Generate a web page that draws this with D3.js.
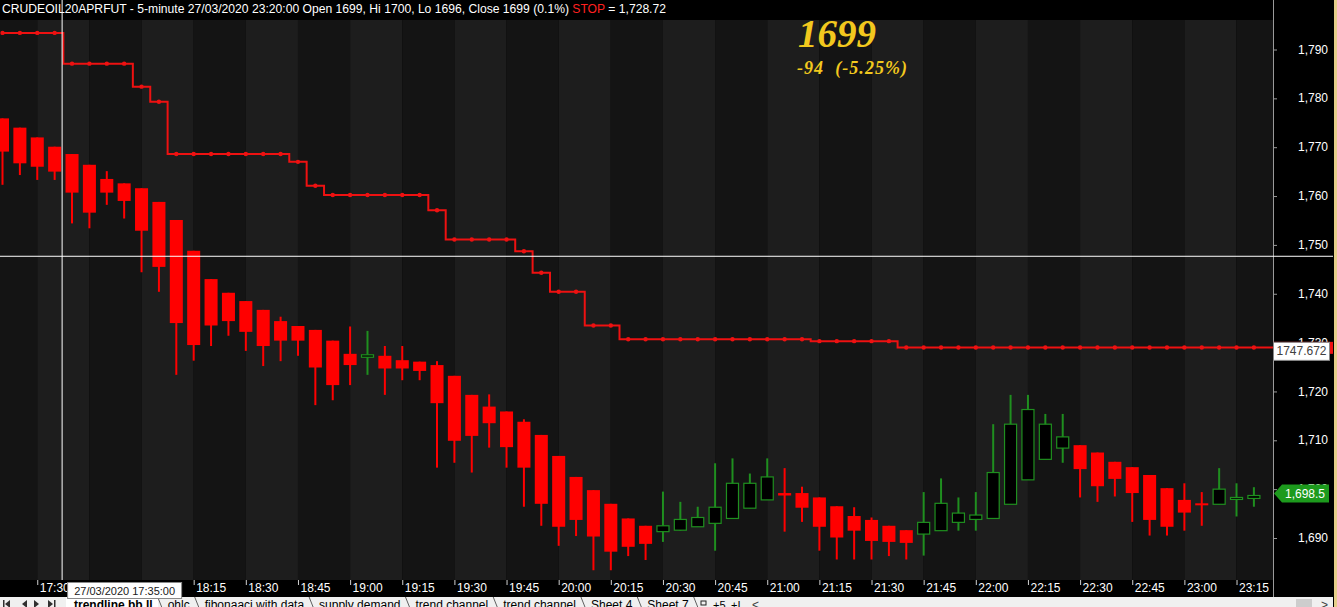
<!DOCTYPE html>
<html>
<head>
<meta charset="utf-8">
<script src="https://cdn.jsdelivr.net/npm/d3@7/dist/d3.min.js"></script>
<style>
  html, body { margin: 0; padding: 0; background: #000; overflow: hidden; }
  svg { display: block; font-family: Arial, "Liberation Sans", sans-serif; }
</style>
</head>
<body>
<svg id="chart" width="1337" height="607"></svg>
<script>
// 5-minute bars
let times = [
  "17:20", "17:25", "17:30", "17:35", "17:40", "17:45", "17:50", "17:55",
  "18:00", "18:05", "18:10", "18:15", "18:20", "18:25", "18:30", "18:35", "18:40", "18:45", "18:50", "18:55",
  "19:00", "19:05", "19:10", "19:15", "19:20", "19:25", "19:30", "19:35", "19:40", "19:45", "19:50", "19:55",
  "20:00", "20:05", "20:10", "20:15", "20:20", "20:25", "20:30", "20:35", "20:40", "20:45", "20:50", "20:55",
  "21:00", "21:05", "21:10", "21:15", "21:20", "21:25", "21:30", "21:35", "21:40", "21:45", "21:50", "21:55",
  "22:00", "22:05", "22:10", "22:15", "22:20", "22:25", "22:30", "22:35", "22:40", "22:45", "22:50", "22:55",
  "23:00", "23:05", "23:10", "23:15", "23:20"
];
let opens = [
  1775.9, 1774.0, 1772.0, 1770.1, 1768.6, 1766.4, 1763.5, 1762.6, 1761.6, 1758.8,
  1755.1, 1748.8, 1743.0, 1740.2, 1738.5, 1736.7, 1734.4, 1733.4, 1732.6, 1730.4,
  1727.7, 1727.0, 1727.3, 1726.4, 1726.1, 1725.4, 1723.2, 1719.3, 1716.9, 1715.9,
  1713.8, 1711.1, 1706.8, 1702.5, 1699.8, 1697.0, 1694.0, 1692.5, 1691.3, 1691.6,
  1692.3, 1693.0, 1694.0, 1696.1, 1697.8, 1699.2, 1699.2, 1698.3, 1696.5, 1694.5,
  1693.7, 1692.5, 1691.6, 1690.8, 1691.5, 1693.2, 1693.8, 1694.0, 1696.9, 1701.9,
  1706.1, 1708.4, 1709.0, 1707.5, 1705.6, 1704.5, 1702.9, 1700.2, 1697.8, 1697.1,
  1696.9, 1697.9, 1698.1
];
let highs = [
  1775.9, 1774.0, 1772.0, 1770.1, 1768.6, 1766.4, 1765.1, 1762.6, 1761.6, 1758.8,
  1755.1, 1748.8, 1743.0, 1740.2, 1738.5, 1736.7, 1735.3, 1733.4, 1732.6, 1730.4,
  1733.3, 1732.4, 1729.3, 1729.3, 1726.1, 1726.2, 1723.2, 1719.3, 1719.4, 1715.9,
  1714.3, 1711.1, 1706.8, 1702.5, 1699.8, 1697.0, 1694.0, 1692.5, 1699.5, 1697.4,
  1696.4, 1705.3, 1706.3, 1703.2, 1706.3, 1704.3, 1700.5, 1698.3, 1696.5, 1696.3,
  1694.2, 1692.5, 1691.6, 1699.4, 1702.2, 1698.3, 1699.4, 1713.3, 1719.3, 1719.3,
  1715.4, 1715.4, 1709.0, 1707.5, 1705.6, 1704.5, 1702.9, 1700.2, 1701.2, 1699.4,
  1704.3, 1701.2, 1700.4
];
let lows = [
  1762.3, 1764.3, 1763.3, 1763.3, 1754.4, 1753.4, 1758.2, 1755.4, 1744.4, 1740.4,
  1723.4, 1726.3, 1729.3, 1731.4, 1728.3, 1725.2, 1726.2, 1727.3, 1717.2, 1718.2,
  1721.3, 1723.4, 1719.3, 1722.3, 1722.3, 1704.4, 1705.4, 1703.4, 1708.5, 1704.4,
  1696.4, 1692.5, 1688.4, 1690.4, 1683.4, 1683.4, 1686.3, 1685.5, 1689.2, 1691.5,
  1692.3, 1687.4, 1694.0, 1696.1, 1697.8, 1691.3, 1693.3, 1687.4, 1685.6, 1685.6,
  1685.6, 1686.3, 1685.6, 1686.4, 1691.5, 1691.5, 1691.5, 1694.0, 1696.9, 1701.9,
  1706.1, 1705.4, 1698.3, 1697.4, 1698.5, 1693.3, 1690.5, 1690.5, 1691.5, 1692.5,
  1696.9, 1694.4, 1696.4
];
let closes = [
  1769.1, 1766.7, 1766.0, 1765.0, 1760.7, 1756.6, 1760.7, 1759.0, 1752.9, 1745.5,
  1734.0, 1729.5, 1733.5, 1734.4, 1732.2, 1729.3, 1730.4, 1730.4, 1724.9, 1721.3,
  1725.4, 1727.5, 1724.7, 1724.7, 1724.2, 1717.6, 1709.9, 1710.9, 1713.5, 1708.6,
  1704.4, 1697.0, 1692.3, 1693.7, 1690.3, 1687.2, 1688.2, 1688.8, 1692.5, 1693.8,
  1694.2, 1696.3, 1701.2, 1701.2, 1702.5, 1698.7, 1696.2, 1692.3, 1690.1, 1691.5,
  1689.4, 1689.2, 1689.0, 1693.2, 1697.1, 1695.1, 1694.7, 1703.4, 1713.3, 1716.3,
  1713.3, 1710.7, 1704.1, 1700.6, 1702.1, 1699.2, 1693.7, 1692.3, 1695.2, 1696.9,
  1700.0, 1698.3, 1698.7
];
// Trailing stop level per bar
let stops = [
  1793.4, 1793.4, 1793.4, 1793.4, 1787.1, 1787.1, 1787.1, 1787.1, 1782.4, 1779.3,
  1768.6, 1768.6, 1768.6, 1768.6, 1768.6, 1768.6, 1768.6, 1767.0, 1762.1, 1760.2,
  1760.2, 1760.2, 1760.2, 1760.2, 1760.2, 1757.1, 1751.1, 1751.1, 1751.1, 1751.1,
  1748.7, 1744.3, 1740.4, 1740.4, 1733.5, 1733.5, 1730.7, 1730.7, 1730.7, 1730.7,
  1730.7, 1730.7, 1730.7, 1730.7, 1730.7, 1730.7, 1730.7, 1730.3, 1730.3, 1730.3,
  1730.3, 1730.3, 1729.0, 1729.0, 1729.0, 1729.0, 1729.0, 1729.0, 1729.0, 1729.0,
  1729.0, 1729.0, 1729.0, 1729.0, 1729.0, 1729.0, 1729.0, 1729.0, 1729.0, 1729.0,
  1729.0, 1729.0, 1729.0
];

// Axis ticks
let xTickLabels = [
  "17:30", "17:45", "18:00", "18:15", "18:30", "18:45", "19:00", "19:15", "19:30", "19:45",
  "20:00", "20:15", "20:30", "20:45", "21:00", "21:15", "21:30", "21:45", "22:00", "22:15",
  "22:30", "22:45", "23:00", "23:15"
];
let yTickValues = [1690, 1700, 1710, 1720, 1730, 1740, 1750, 1760, 1770, 1780, 1790];

// Markers / texts
let lastPrice = 1698.5;
let stopValue = 1728.72;
let crosshair = { time: "17:35", value: 1747.672, label: "27/03/2020 17:35:00" };
let header = "CRUDEOIL20APRFUT - 5-minute 27/03/2020 23:20:00 Open 1699, Hi 1700, Lo 1696, Close 1699 (0.1%) ";
let bigPrice = "1699";
let bigChange = "-94  (-5.25%)";
let tabNames = ["trendline bb ll", "ohlc", "fibonaaci with data", "supply demand",
  "trend channel", "trend channel", "Sheet 4", "Sheet 7"];

// Layout
let svg = d3.select("svg#chart"),
  width = +svg.attr("width"),
  height = +svg.attr("height"),
  plot = { left: 0, right: 1273, top: 20, bottom: 580 },
  tabTop = 597;

let colors = {
  "background": "#000000",
  "stripeDark": "#141414",
  "stripeLight": "#1d1d1d",
  "bear": "#ff0000",
  "bull": "#1f8f1f",
  "stop": "#ee1111",
  "text": "#ffffff",
  "axisLine": "#9a9a9a",
  "gold": "#f2c81e",
  "border": "#e6cf8a",
  "tabBar": "#f0f0f0"
};

let bars = times.map((t, i) => ({
  time: t, open: opens[i], high: highs[i], low: lows[i], close: closes[i], stop: stops[i]
}));

// Scales
let x = d3.scalePoint()
  .domain(times)
  .range([2.5, 1253.9]);
let y = d3.scaleLinear()
  .domain([1690, 1790])
  .range([538, 49.5]);

let crossX = x(crosshair.time) + x.step() * 0.43;
let boxLeft = crossX + 5.5, boxWidth = 114;

// Background
svg.append("rect")
  .attr("width", width)
  .attr("height", height)
  .attr("fill", colors.background);

// Alternating 15-minute stripes
let edges = [plot.left].concat(xTickLabels.map(t => x(t))).concat([plot.right]);
let stripes = svg.append("g").attr("class", "stripes");
for (let k = 0; k < edges.length - 1; k++) {
  let start = k == 0 ? null : xTickLabels[k - 1];
  let light = start && (start.endsWith(":00") || start.endsWith(":30"));
  stripes.append("rect")
    .attr("x", edges[k])
    .attr("y", plot.top)
    .attr("width", edges[k + 1] - edges[k])
    .attr("height", plot.bottom - plot.top)
    .attr("fill", light ? colors.stripeLight : colors.stripeDark);
}

// Stop line
let stopLine = d3.line()
  .x(d => x(d.time))
  .y(d => y(d.stop))
  .curve(d3.curveStep);

svg.append("path")
  .datum(bars)
  .attr("d", stopLine)
  .attr("fill", "none")
  .attr("stroke", colors.stop)
  .attr("stroke-width", 2);

svg.append("g")
  .attr("class", "stop-dots")
  .selectAll("circle")
  .data(bars)
  .enter()
  .append("circle")
  .attr("cx", d => x(d.time))
  .attr("cy", d => y(d.stop))
  .attr("r", 2.2)
  .attr("fill", colors.stop);

// Candles
let bodyW = x.step() * 0.75;
let candles = svg.append("g")
  .attr("class", "candles")
  .selectAll("g")
  .data(bars)
  .enter()
  .append("g");

candles.append("line")
  .attr("x1", d => x(d.time))
  .attr("x2", d => x(d.time))
  .attr("y1", d => y(d.high))
  .attr("y2", d => y(d.low))
  .attr("stroke", d => d.close >= d.open ? colors.bull : colors.bear)
  .attr("stroke-width", 2);

candles.append("rect")
  .attr("x", d => d.close >= d.open ? x(d.time) - bodyW / 2 + 0.5 : x(d.time) - bodyW / 2)
  .attr("y", d => y(Math.max(d.open, d.close)))
  .attr("width", d => d.close >= d.open ? bodyW - 1 : bodyW)
  .attr("height", d => Math.max(2, Math.abs(y(d.open) - y(d.close))))
  .attr("fill", d => d.close >= d.open ? "#000000" : colors.bear)
  .attr("stroke", d => d.close >= d.open ? colors.bull : "none")
  .attr("stroke-width", 1.2);

// Bottom (time) axis band
svg.append("rect")
  .attr("x", 0)
  .attr("y", plot.bottom)
  .attr("width", width)
  .attr("height", tabTop - plot.bottom)
  .attr("fill", colors.background);

// labels hidden under the crosshair time box are left out
let visibleTicks = xTickLabels.filter(t => x(t) < boxLeft - 20 || x(t) > boxLeft + boxWidth);
let gx = svg.append("g")
  .attr("class", "axis axis_x")
  .attr("transform", "translate(0," + plot.bottom + ")")
  .call(d3.axisBottom(x).tickValues(visibleTicks).tickSize(5).tickSizeOuter(0));
gx.select(".domain").remove();
gx.selectAll(".tick line").attr("stroke", "#d0d0d0");
gx.selectAll(".tick text")
  .attr("text-anchor", "start")
  .attr("x", 2)
  .attr("y", 12)
  .attr("dy", null)
  .attr("fill", colors.text)
  .style("font-size", "12px")
  .style("font-family", "Arial, 'Liberation Sans', sans-serif");

// Right (price) axis
let gy = svg.append("g")
  .attr("class", "axis axis_y")
  .attr("transform", "translate(" + plot.right + ",0)")
  .call(d3.axisRight(y).tickValues(yTickValues).tickSize(4).tickFormat(d3.format(",")));
gy.select(".domain").remove();
gy.selectAll(".tick line").attr("stroke", colors.axisLine);
gy.selectAll(".tick text")
  .attr("text-anchor", "end")
  .attr("x", 55)
  .attr("dy", "0.3em")
  .attr("fill", colors.text)
  .style("font-size", "12px")
  .style("font-family", "Arial, 'Liberation Sans', sans-serif");

svg.append("line")
  .attr("x1", plot.right + 0.5)
  .attr("x2", plot.right + 0.5)
  .attr("y1", 0)
  .attr("y2", tabTop)
  .attr("stroke", colors.axisLine);

// Stop tag (red) and crosshair value box
let stopY = y(stopValue);
svg.append("line")
  .attr("x1", x(times[times.length - 1]))
  .attr("x2", plot.right)
  .attr("y1", y(stops[stops.length - 1]))
  .attr("y2", y(stops[stops.length - 1]))
  .attr("stroke", colors.stop)
  .attr("stroke-width", 2);
svg.append("rect")
  .attr("x", plot.right)
  .attr("y", stopY - 7)
  .attr("width", 60)
  .attr("height", 12)
  .attr("fill", colors.stop);
svg.append("rect")
  .attr("x", plot.right + 0.5)
  .attr("y", stopY - 6.5)
  .attr("width", 56)
  .attr("height", 18)
  .attr("fill", "#ffffff")
  .attr("stroke", "#8a8a8a");
svg.append("text")
  .attr("x", plot.right + 28.5)
  .attr("y", stopY + 6.5)
  .attr("text-anchor", "middle")
  .attr("fill", "#404040")
  .style("font-size", "12px")
  .text(crosshair.value);

// Last price tag (green arrow)
let lastY = y(lastPrice) - 3;
svg.append("path")
  .attr("d", d3.line()([
    [plot.right + 1, lastY], [plot.right + 9, lastY - 9], [plot.right + 56, lastY - 9],
    [plot.right + 56, lastY + 9], [plot.right + 9, lastY + 9]
  ]) + "Z")
  .attr("fill", "#1d9a1d");
svg.append("text")
  .attr("x", plot.right + 32)
  .attr("y", lastY + 4.5)
  .attr("text-anchor", "middle")
  .attr("fill", colors.text)
  .style("font-size", "12px")
  .text(d3.format(",.1f")(lastPrice));

// Header line
svg.append("rect")
  .attr("width", plot.right)
  .attr("height", plot.top)
  .attr("fill", colors.background);
let head = svg.append("text")
  .attr("x", 2)
  .attr("y", 13)
  .attr("fill", colors.text)
  .attr("textLength", 664)
  .attr("lengthAdjust", "spacingAndGlyphs")
  .style("font-size", "12px")
  .style("white-space", "pre");
head.append("tspan").text(header);
head.append("tspan").attr("fill", "#ff2020").text("STOP");
head.append("tspan").text(" = " + d3.format(",.2f")(stopValue));

// Crosshair
svg.append("line")
  .attr("x1", crossX).attr("x2", crossX)
  .attr("y1", 0).attr("y2", plot.bottom)
  .attr("stroke", "#ffffff").attr("stroke-width", 1);
svg.append("line")
  .attr("x1", 0).attr("x2", width - 4)
  .attr("y1", y(crosshair.value)).attr("y2", y(crosshair.value))
  .attr("stroke", "#ffffff").attr("stroke-width", 1);

// Big price display
svg.append("text")
  .attr("x", 798)
  .attr("y", 47)
  .attr("fill", colors.gold)
  .style("font-family", "'Liberation Serif', 'Times New Roman', serif")
  .style("font-weight", "bold")
  .style("font-style", "italic")
  .style("font-size", "39px")
  .text(bigPrice);
svg.append("text")
  .attr("x", 797)
  .attr("y", 74)
  .attr("fill", colors.gold)
  .attr("textLength", 110)
  .attr("lengthAdjust", "spacing")
  .style("font-family", "'Liberation Serif', 'Times New Roman', serif")
  .style("font-weight", "bold")
  .style("font-style", "italic")
  .style("font-size", "18px")
  .style("white-space", "pre")
  .text(bigChange);

// Tab bar
svg.append("rect")
  .attr("x", 0)
  .attr("y", tabTop)
  .attr("width", width - 4)
  .attr("height", height - tabTop)
  .attr("fill", colors.tabBar);

// navigation arrows
let nav = svg.append("g").attr("fill", "#303030");
[[4, -1, true], [21, -1, false], [34, 1, false], [48, 1, true]].forEach(n => {
  let cx = n[0], dir = n[1];
  nav.append("path")
    .attr("d", dir < 0
      ? `M${cx + 6},${tabTop + 3}L${cx + 1},${tabTop + 7}L${cx + 6},${tabTop + 11}Z`
      : `M${cx},${tabTop + 3}L${cx + 5},${tabTop + 7}L${cx},${tabTop + 11}Z`);
  if (n[2]) {
    nav.append("rect")
      .attr("x", dir < 0 ? cx - 1 : cx + 6)
      .attr("y", tabTop + 3)
      .attr("width", 1.5)
      .attr("height", 8);
  }
});

let tabX = 74;
tabNames.forEach((name, i) => {
  if (i == 0) {
    svg.append("rect")
      .attr("x", tabX - 8)
      .attr("y", tabTop)
      .attr("width", 92)
      .attr("height", height - tabTop)
      .attr("fill", "#ffffff");
  }
  let t = svg.append("text")
    .attr("x", tabX)
    .attr("y", tabTop + 12)
    .attr("fill", "#000000")
    .style("font-size", "12px")
    .style("font-weight", i == 0 ? "bold" : "normal")
    .text(name);
  let w = t.node().getComputedTextLength();
  svg.append("line")
    .attr("x1", tabX + w + 5).attr("x2", tabX + w + 9)
    .attr("y1", tabTop).attr("y2", height)
    .attr("stroke", "#606060");
  tabX += w + 15;
});

// small icons and scroll bar on the right of the tabs
svg.append("rect").attr("x", 701).attr("y", tabTop + 4).attr("width", 5).attr("height", 4)
  .attr("fill", "none").attr("stroke", "#202020");
svg.append("text").attr("x", 713).attr("y", tabTop + 12).style("font-size", "11px").text("+5");
svg.append("text").attr("x", 731).attr("y", tabTop + 12).style("font-size", "11px").text("+I");
svg.append("text").attr("x", 752).attr("y", tabTop + 12).style("font-size", "12px").attr("fill", "#404040").text("<");
svg.append("rect").attr("x", 1296).attr("y", tabTop + 2).attr("width", 16).attr("height", height - tabTop)
  .attr("fill", "#cdcdcd");
svg.append("text").attr("x", 1321).attr("y", tabTop + 12).style("font-size", "12px").attr("fill", "#404040").text(">");

// Crosshair time box
svg.append("rect")
  .attr("x", boxLeft)
  .attr("y", plot.bottom + 2.5)
  .attr("width", boxWidth)
  .attr("height", 16)
  .attr("fill", "#ffffff")
  .attr("stroke", "#8a8a8a");
svg.append("text")
  .attr("x", boxLeft + boxWidth / 2)
  .attr("y", plot.bottom + 14.5)
  .attr("text-anchor", "middle")
  .attr("fill", "#202020")
  .style("font-size", "11px")
  .text(crosshair.label);

// Right frame border
svg.append("rect")
  .attr("x", width - 3)
  .attr("y", 0)
  .attr("width", 3)
  .attr("height", height)
  .attr("fill", colors.border);
</script>
</body>
</html>
